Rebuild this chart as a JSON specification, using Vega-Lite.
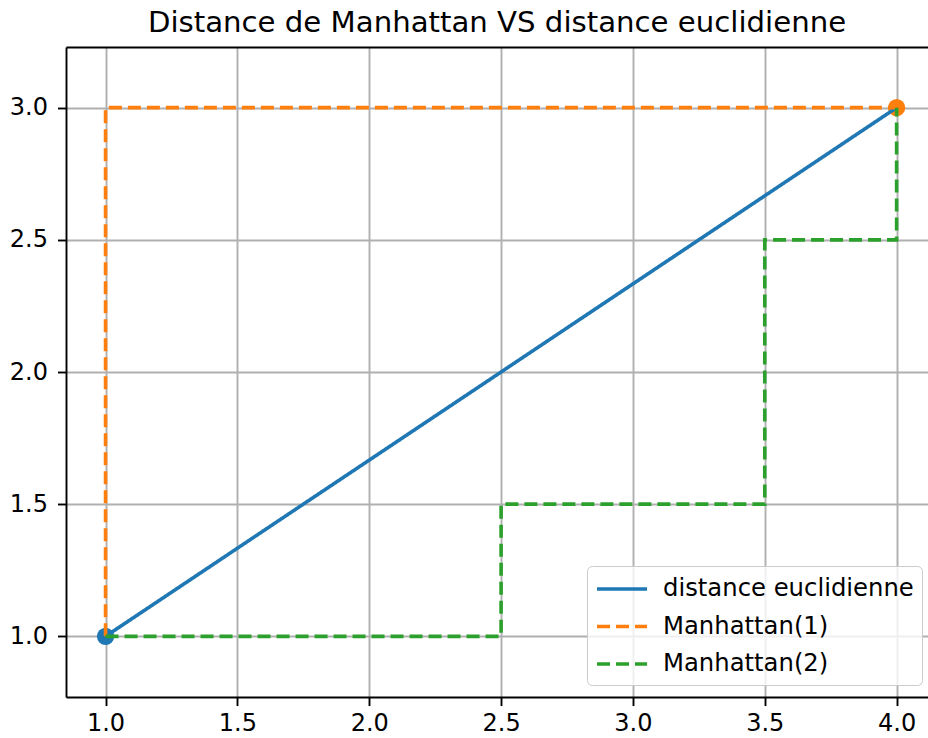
{
  "$schema": "https://vega.github.io/schema/vega-lite/v6.json",
  "width": 862,
  "height": 650,
  "autosize": {"type": "none"},
  "padding": {"left": 66, "top": 47, "right": 0, "bottom": 41},
  "background": "white",
  "title": {
    "text": "Distance de Manhattan VS distance euclidienne",
    "font": "DejaVu Sans",
    "fontSize": 29.2,
    "fontWeight": "normal",
    "color": "#000000",
    "anchor": "middle",
    "offset": 9
  },
  "config": {
    "view": {"stroke": null},
    "axis": {
      "labelFont": "DejaVu Sans",
      "labelFontSize": 24,
      "labelColor": "#000000",
      "domainColor": "#000000",
      "domainWidth": 1.9,
      "tickColor": "#000000",
      "tickWidth": 1.9,
      "tickSize": 8.5,
      "gridColor": "#b0b0b0",
      "gridWidth": 1.9,
      "gridOpacity": 1,
      "title": null
    },
    "legend": {
      "orient": "none",
      "legendX": 521,
      "legendY": 519,
      "labelFont": "DejaVu Sans",
      "labelFontSize": 24.3,
      "labelColor": "#000000",
      "labelLimit": 500,
      "labelOffset": 38,
      "rowPadding": 9.5,
      "padding": 8,
      "fillColor": "rgba(255,255,255,0.8)",
      "strokeColor": "#cccccc",
      "cornerRadius": 5,
      "title": null
    }
  },
  "datasets": {
    "lines": [
      {"series": "distance euclidienne", "order": 0, "x": 1.0, "y": 1.0},
      {"series": "distance euclidienne", "order": 1, "x": 4.0, "y": 3.0},
      {"series": "Manhattan(1)", "order": 0, "x": 1.0, "y": 1.0},
      {"series": "Manhattan(1)", "order": 1, "x": 1.0, "y": 3.0},
      {"series": "Manhattan(1)", "order": 2, "x": 4.0, "y": 3.0},
      {"series": "Manhattan(2)", "order": 0, "x": 1.0, "y": 1.0},
      {"series": "Manhattan(2)", "order": 1, "x": 2.5, "y": 1.0},
      {"series": "Manhattan(2)", "order": 2, "x": 2.5, "y": 1.5},
      {"series": "Manhattan(2)", "order": 3, "x": 3.5, "y": 1.5},
      {"series": "Manhattan(2)", "order": 4, "x": 3.5, "y": 2.5},
      {"series": "Manhattan(2)", "order": 5, "x": 4.0, "y": 2.5},
      {"series": "Manhattan(2)", "order": 6, "x": 4.0, "y": 3.0}
    ],
    "points": [
      {"series": "distance euclidienne", "x": 1.0, "y": 1.0},
      {"series": "Manhattan(1)", "x": 4.0, "y": 3.0}
    ]
  },
  "layer": [
    {
      "data": {"name": "points"},
      "transform": [{"filter": "datum.series === 'distance euclidienne'"}],
      "mark": {"type": "point", "filled": true, "opacity": 1, "size": 300, "shape": "circle", "color": "#1f77b4"},
      "encoding": {
        "x": {
          "field": "x", "type": "quantitative",
          "scale": {"domain": [0.85, 4.119], "zero": false, "nice": false},
          "axis": {"orient": "bottom", "values": [1.0, 1.5, 2.0, 2.5, 3.0, 3.5, 4.0], "format": ".1f", "labelPadding": 6}
        },
        "y": {
          "field": "y", "type": "quantitative",
          "scale": {"domain": [0.7705, 3.2295], "zero": false, "nice": false},
          "axis": {"orient": "left", "values": [1.0, 1.5, 2.0, 2.5, 3.0], "format": ".1f", "labelPadding": 10}
        }
      }
    },
    {
      "data": {"name": "points"},
      "transform": [{"filter": "datum.series === 'Manhattan(1)'"}],
      "mark": {"type": "point", "filled": true, "opacity": 1, "size": 300, "shape": "circle", "color": "#ff7f0e"},
      "encoding": {
        "x": {"field": "x", "type": "quantitative", "axis": null},
        "y": {"field": "y", "type": "quantitative"}
      }
    },
    {
      "data": {"name": "lines"},
      "mark": {"type": "line", "strokeWidth": 3.6, "strokeCap": "butt"},
      "encoding": {
        "x": {
          "field": "x", "type": "quantitative",
          "axis": {"orient": "top", "labels": false, "ticks": false, "grid": false, "domain": true}
        },
        "y": {"field": "y", "type": "quantitative"},
        "order": {"field": "order", "type": "quantitative"},
        "color": {
          "field": "series", "type": "nominal",
          "scale": {"domain": ["distance euclidienne", "Manhattan(1)", "Manhattan(2)"], "range": ["#1f77b4", "#ff7f0e", "#2ca02c"]},
          "sort": ["distance euclidienne", "Manhattan(1)", "Manhattan(2)"],
          "legend": {"symbolType": "M-1,0H2.85", "symbolSize": 676, "symbolStrokeWidth": 3.6}
        },
        "strokeDash": {
          "field": "series", "type": "nominal",
          "scale": {"domain": ["distance euclidienne", "Manhattan(1)", "Manhattan(2)"], "range": [[1, 0], [13, 6], [13, 6]]},
          "sort": ["distance euclidienne", "Manhattan(1)", "Manhattan(2)"],
          "legend": {"symbolType": "M-1,0H2.85", "symbolSize": 676, "symbolStrokeWidth": 3.6}
        }
      }
    }
  ],
  "resolve": {"axis": {"x": "independent"}}
}
